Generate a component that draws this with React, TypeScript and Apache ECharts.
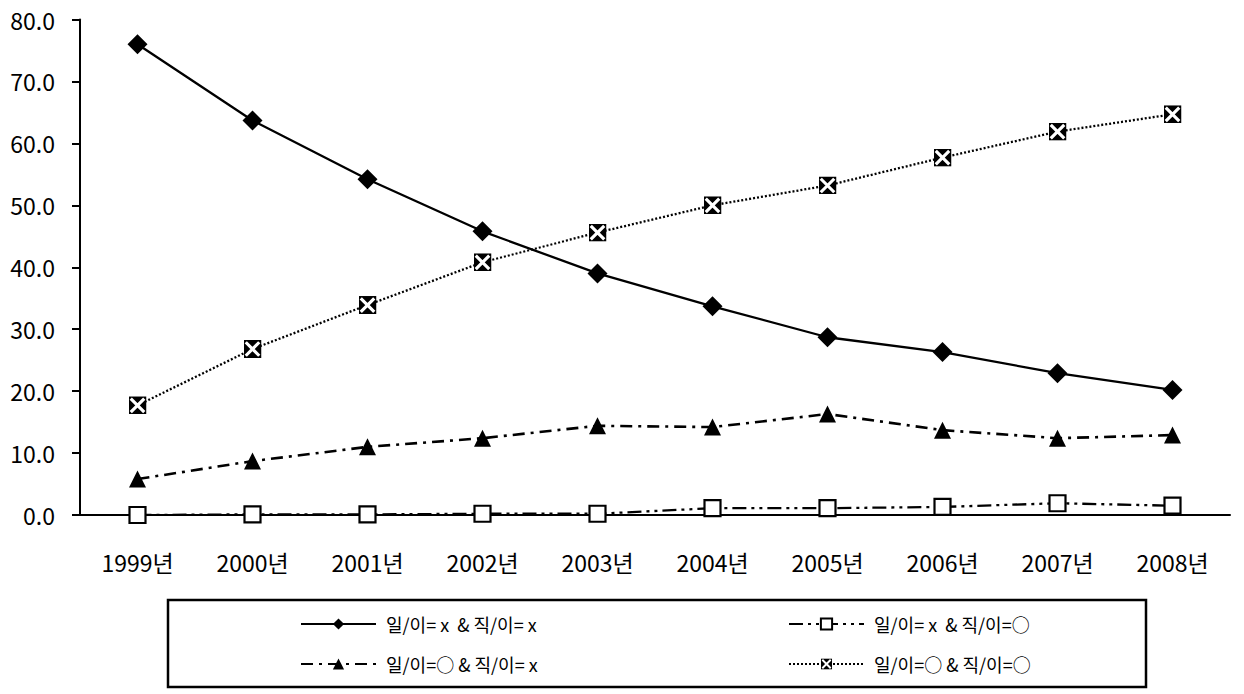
import React, { useEffect, useRef } from "react";
import * as echarts from "echarts";

const categories = ["1999년", "2000년", "2001년", "2002년", "2003년", "2004년", "2005년", "2006년", "2007년", "2008년"];
const seriesNames = ["일/이= x  & 직/이= x", "일/이= x  & 직/이=○", "일/이=○ & 직/이= x", "일/이=○ & 직/이=○"];
const s1 = [76.0, 63.7, 54.2, 45.8, 39.0, 33.7, 28.7, 26.3, 22.9, 20.2];
const s2 = [0.0, 0.1, 0.1, 0.2, 0.2, 1.1, 1.1, 1.3, 1.9, 1.5];
const s3 = [5.8, 8.7, 11.0, 12.4, 14.4, 14.2, 16.3, 13.7, 12.4, 12.9];
const s4 = [17.7, 26.8, 33.9, 40.8, 45.6, 50.0, 53.2, 57.7, 61.9, 64.7];
const yTicks = { min: 0, max: 80, interval: 10 };

const xSvg =
  "<svg xmlns='http://www.w3.org/2000/svg' width='16' height='16'><rect width='16' height='16' fill='black'/><path d='M2 2L14 14M14 2L2 14' stroke='white' stroke-width='2.8'/></svg>";
const xSymbol = "image://data:image/svg+xml;charset=utf-8," + encodeURIComponent(xSvg);

const FONT = "'Noto Sans CJK KR', sans-serif";

export default function App() {
  const ref = useRef<HTMLDivElement>(null);
  useEffect(() => {
    document.body.style.margin = "0";
    const chart = echarts.init(ref.current!, null, { renderer: "svg" });
    const legendBase = {
      orient: "horizontal",
      padding: 0,
      itemWidth: 75,
      itemHeight: 14,
      itemGap: 0,
      textStyle: { fontFamily: FONT, fontSize: 18, color: "#000", padding: [0, 0, 0, 5] },
    };
    chart.setOption({
      animation: false,
      backgroundColor: "#fff",
      grid: { left: 80, right: 14, top: 19.5, bottom: 179, containLabel: false },
      xAxis: {
        type: "category",
        data: categories,
        boundaryGap: true,
        axisLine: { lineStyle: { color: "#000", width: 2 } },
        axisTick: { alignWithLabel: true, length: 8, lineStyle: { color: "#000", width: 2 } },
        axisLabel: { fontFamily: FONT, fontSize: 23, color: "#000", margin: 35 },
        splitLine: { show: false },
      },
      yAxis: {
        type: "value",
        min: yTicks.min,
        max: yTicks.max,
        interval: yTicks.interval,
        axisLine: { show: true, lineStyle: { color: "#000", width: 2 } },
        axisTick: { show: true, length: 8, lineStyle: { color: "#000", width: 2 } },
        axisLabel: {
          fontFamily: FONT,
          fontSize: 23,
          color: "#000",
          margin: 25,
          formatter: (v: number) => v.toFixed(1),
        },
        splitLine: { show: false },
      },
      legend: [
        { ...legendBase, data: [seriesNames[0]], left: 300, top: 615 },
        { ...legendBase, data: [seriesNames[1]], left: 788, top: 615 },
        { ...legendBase, data: [seriesNames[2]], left: 300, top: 655 },
        { ...legendBase, data: [seriesNames[3]], left: 788, top: 655 },
      ],
      graphic: [
        {
          type: "rect",
          shape: { x: 168, y: 600, width: 978, height: 87 },
          style: { fill: "none", stroke: "#000", lineWidth: 2.5 },
          z: -1,
        },
      ],
      series: [
        {
          name: seriesNames[0],
          type: "line",
          data: s1,
          symbol: "diamond",
          symbolSize: 20,
          itemStyle: { color: "#000" },
          lineStyle: { color: "#000", width: 2.3, type: "solid" },
          z: 4,
        },
        {
          name: seriesNames[1],
          type: "line",
          data: s2,
          symbol: "rect",
          symbolSize: 16,
          itemStyle: { color: "#fff", borderColor: "#000", borderWidth: 2.2 },
          lineStyle: { color: "#000", width: 2.3, type: [14, 5, 3, 5, 3, 5] },
          z: 5,
        },
        {
          name: seriesNames[2],
          type: "line",
          data: s3,
          symbol: "triangle",
          symbolSize: 17,
          itemStyle: { color: "#000" },
          lineStyle: { color: "#000", width: 2.6, type: [12, 6, 3, 6] },
          z: 3,
        },
        {
          name: seriesNames[3],
          type: "line",
          data: s4,
          symbol: xSymbol,
          symbolSize: 18,
          itemStyle: { color: "#000" },
          lineStyle: { color: "#000", width: 2.3, type: [2, 2] },
          z: 3,
        },
      ],
    });
    return () => chart.dispose();
  }, []);
  return <div ref={ref} style={{ width: 1244, height: 694 }} />;
}
